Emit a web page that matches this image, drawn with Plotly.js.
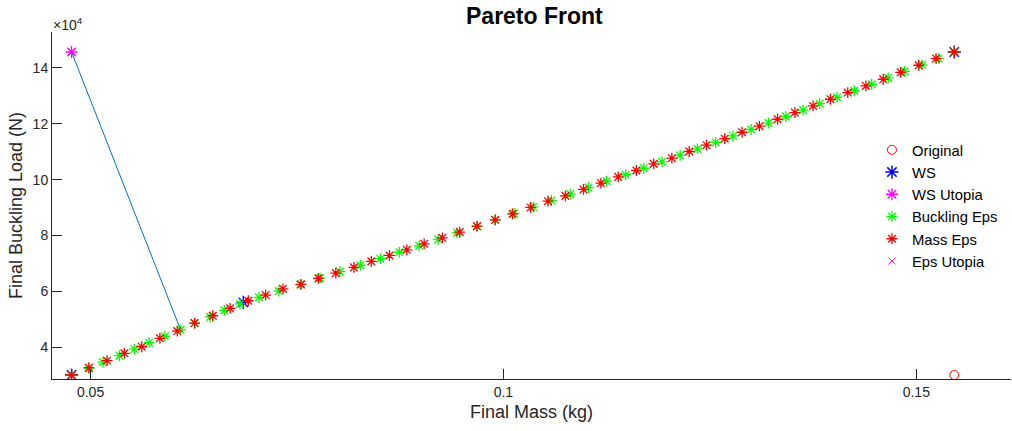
<!DOCTYPE html>
<html>
<head>
<meta charset="utf-8">
<script src="https://cdn.plot.ly/plotly-3.0.1.min.js"></script>
<style>html,body{margin:0;padding:0;background:#fff;}#chart{width:1012px;height:431px;}</style>
</head>
<body>
<div id="chart"></div>
<script>
// ---- data ----
const originalMass = [0.1546];
const originalLoad = [30090];

const wsMass = [0.0477, 0.0685, 0.1546];
const wsLoad = [30090, 56090, 145720];

const wsUtopiaMass = [0.0477];
const wsUtopiaLoad = [145720];

const epsUtopiaMass = [0.0477];
const epsUtopiaLoad = [145720];

const utopiaLineMass = [0.0477, 0.0609];
const utopiaLineLoad = [145720, 46280];

const bucklingEpsMass = [0.0477, 0.0498, 0.0515, 0.0535, 0.0553, 0.0571, 0.0590, 0.0609, 0.0626, 0.0645,
  0.0662, 0.0681, 0.0704, 0.0728, 0.0754, 0.0778, 0.0802, 0.0827, 0.0851, 0.0874,
  0.0898, 0.0921, 0.0944, 0.0968, 0.0990, 0.1013, 0.1036, 0.1058, 0.1081, 0.1103,
  0.1125, 0.1148, 0.1170, 0.1192, 0.1214, 0.1235, 0.1257, 0.1278, 0.1300, 0.1321,
  0.1342, 0.1363, 0.1383, 0.1404, 0.1425, 0.1446, 0.1466, 0.1486, 0.1507, 0.1527, 0.1546];
const bucklingEpsLoad = [30090, 32400, 34710, 37030, 39340, 41650, 43960, 46280, 48590, 50900,
  53220, 55530, 57840, 60150, 62470, 64780, 67090, 69410, 71720, 74030,
  76340, 78660, 80970, 83280, 85590, 87910, 90220, 92530, 94850, 97160,
  99470, 101780, 104100, 106410, 108720, 111030, 113350, 115660, 117970, 120290,
  122600, 124910, 127220, 129540, 131850, 134160, 136470, 138790, 141100, 143410, 145720];

const massEpsMass = [0.0477, 0.0498, 0.0520, 0.0541, 0.0562, 0.0584, 0.0605, 0.0626, 0.0648, 0.0669,
  0.0691, 0.0712, 0.0733, 0.0755, 0.0776, 0.0797, 0.0819, 0.0840, 0.0862, 0.0883,
  0.0904, 0.0926, 0.0947, 0.0968, 0.0990, 0.1011, 0.1033, 0.1054, 0.1075, 0.1097,
  0.1118, 0.1139, 0.1161, 0.1182, 0.1204, 0.1225, 0.1246, 0.1268, 0.1289, 0.1310,
  0.1332, 0.1353, 0.1375, 0.1396, 0.1417, 0.1439, 0.1460, 0.1481, 0.1503, 0.1524, 0.1546];
const massEpsLoad = [30090, 32700, 35210, 37850, 40210, 43220, 45830, 48690, 51300, 53950,
  56670, 58710, 60920, 62530, 64680, 66570, 68610, 70760, 72900, 74910,
  77050, 79200, 81240, 83380, 85640, 87780, 90070, 92320, 94220, 96510,
  98760, 101020, 103300, 105670, 107700, 110100, 112350, 114680, 117000, 119150,
  121650, 124050, 126410, 128810, 131200, 133560, 135960, 138460, 140970, 143360, 145720];

const xTickVals = [0.05, 0.1, 0.15];
const xTickText = ['0.05', '0.1', '0.15'];
const yTickVals = [40000, 60000, 80000, 100000, 120000, 140000];
const yTickText = ['4', '6', '8', '10', '12', '14'];

// ---- chart ----
const FONT = 'Liberation Sans, Arial, Helvetica, sans-serif';
const traces = [
  {x: utopiaLineMass, y: utopiaLineLoad, mode: 'lines', showlegend: false, hoverinfo: 'skip',
   line: {color: '#0072BD', width: 1}},
  {x: originalMass, y: originalLoad, mode: 'markers', name: 'Original',
   marker: {symbol: 'circle-open', size: 9, color: '#FF0000', line: {width: 1, color: '#FF0000'}}},
  {x: wsMass, y: wsLoad, mode: 'markers', name: 'WS',
   marker: {symbol: 'asterisk-open', size: 11, color: '#0000FF', line: {width: 1.5, color: '#0000FF'}}},
  {x: wsUtopiaMass, y: wsUtopiaLoad, mode: 'markers', name: 'WS Utopia',
   marker: {symbol: 'asterisk-open', size: 10, color: '#FF00FF', line: {width: 1.3, color: '#FF00FF'}}},
  {x: bucklingEpsMass, y: bucklingEpsLoad, mode: 'markers', name: 'Buckling Eps',
   marker: {symbol: 'asterisk-open', size: 9, color: '#00FF00', line: {width: 1.3, color: '#00FF00'}}},
  {x: massEpsMass, y: massEpsLoad, mode: 'markers', name: 'Mass Eps',
   marker: {symbol: 'asterisk-open', size: 9, color: '#FF0000', line: {width: 1.3, color: '#FF0000'}}},
  {x: epsUtopiaMass, y: epsUtopiaLoad, mode: 'markers', name: 'Eps Utopia',
   marker: {symbol: 'x-thin-open', size: 7, color: '#FF00FF', line: {width: 1, color: '#FF00FF'}}}
];

const layout = {
  width: 1012, height: 431,
  margin: {l: 52, r: 1, t: 32, b: 52, pad: 0},
  paper_bgcolor: '#ffffff', plot_bgcolor: '#ffffff',
  font: {family: FONT, color: '#262626', size: 14},
  title: {text: '<b>Pareto Front</b>', font: {family: FONT, size: 23, color: '#000000'},
          x: 0.503, xanchor: 'center', y: 0.964, yanchor: 'middle', xref: 'paper', yref: 'container'},
  xaxis: {
    range: [0.04533, 0.16147], tickvals: xTickVals, ticktext: xTickText,
    ticks: 'inside', ticklen: 10, tickwidth: 1, tickcolor: '#262626',
    showline: true, linecolor: '#262626', linewidth: 1, mirror: false,
    showgrid: false, zeroline: false,
    tickfont: {family: FONT, size: 14, color: '#262626'},
    title: {text: 'Final Mass (kg)', font: {family: FONT, size: 18, color: '#262626'}, standoff: 6}
  },
  yaxis: {
    range: [28660, 152880], tickvals: yTickVals, ticktext: yTickText,
    ticks: 'inside', ticklen: 10, tickwidth: 1, tickcolor: '#262626',
    showline: true, linecolor: '#262626', linewidth: 1, mirror: false,
    showgrid: false, zeroline: false,
    tickfont: {family: FONT, size: 14, color: '#262626'},
    title: {text: 'Final Buckling Load (N)', font: {family: FONT, size: 18, color: '#262626'}, standoff: 5}
  },
  legend: {
    x: 0.855, y: 0.707, xanchor: 'left', yanchor: 'top',
    bgcolor: 'rgba(255,255,255,0)', borderwidth: 0,
    font: {family: FONT, size: 14.8, color: '#000000'},
    itemwidth: 30, tracegroupgap: 0
  },
  annotations: [
    {text: '×10<sup>4</sup>', xref: 'paper', yref: 'paper', x: 0, y: 1, xanchor: 'left', yanchor: 'bottom',
     showarrow: false, font: {family: FONT, size: 14, color: '#262626'}, xshift: -1, yshift: -3}
  ]
};

Plotly.newPlot('chart', traces, layout, {displayModeBar: false, staticPlot: true});
</script>
</body>
</html>
